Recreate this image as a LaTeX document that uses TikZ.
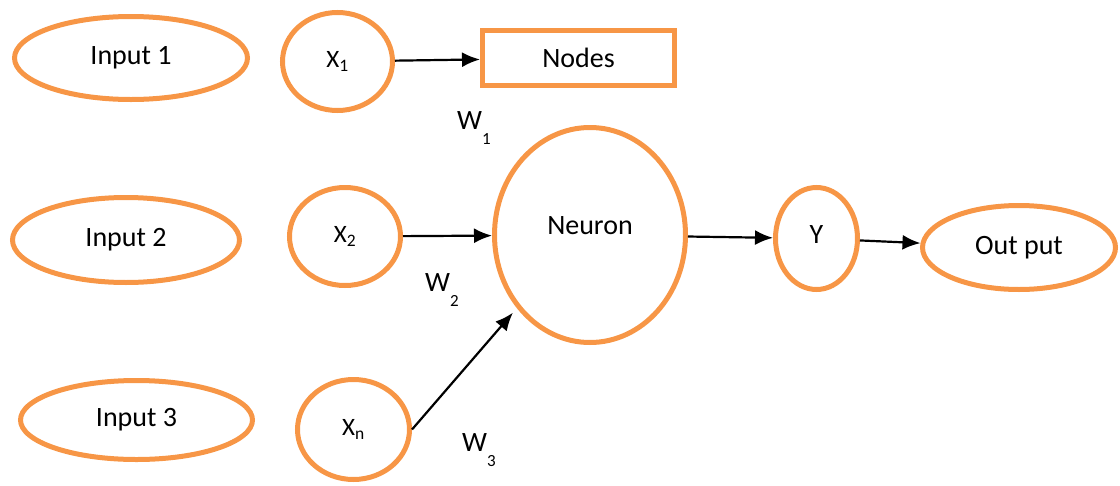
\documentclass[tikz,border=0pt]{standalone}
\usepackage{fontspec}
\setmainfont{Carlito}
\usetikzlibrary{shapes.geometric,arrows.meta}
\definecolor{nodeorange}{HTML}{F79646}
\newcommand{\wsub}[1]{W\raisebox{-15pt}{\fontsize{17}{20}\selectfont #1}}
\begin{document}
\begin{tikzpicture}[x=1pt,y=-1pt,font=\fontsize{28}{33}\selectfont]
	\useasboundingbox (0,0) rectangle (1120,485);
	\tikzstyle{oval}=[ellipse,draw=nodeorange,line width=5pt,inner sep=0pt]
	\tikzstyle{xlab}=[font=\fontsize{25}{30}\selectfont]

	\node[oval,minimum width=233pt,minimum height=83pt] (I1) at (131,58) {Input 1};
	\node[oval,minimum width=227pt,minimum height=85pt] (I2) at (126,240) {Input 2};
	\node[oval,minimum width=232pt,minimum height=79pt] (I3) at (136.5,420) {Input 3};

	\node[oval,xlab,minimum width=110pt,minimum height=98pt] (X1) at (337.5,61.5) {X\textsubscript{1}};
	\node[oval,xlab,minimum width=111pt,minimum height=98pt] (X2) at (345,236.5) {X\textsubscript{2}};
	\node[oval,xlab,minimum width=112pt,minimum height=100pt] (Xn) at (353.5,429.5) {X\textsubscript{n}};

	\node[draw=nodeorange,line width=5pt,minimum width=192pt,minimum height=55pt] (Nodes) at (578.5,58) {Nodes};
	\node[oval,minimum width=191pt,minimum height=215pt] (N) at (590,235) {\raisebox{18pt}{Neuron}};
	\node[oval,minimum width=82pt,minimum height=102pt] (Y) at (816.5,238.5) {\raisebox{8pt}{Y}};
	\node[oval,minimum width=193pt,minimum height=84pt] (O) at (1019,247.5) {Out put};

	\node (W1) at (474,128) {\wsub{1}};
	\node (W2) at (442,290) {\wsub{2}};
	\node (W3) at (479,450) {\wsub{3}};

	\tikzstyle{arr}=[-{Latex[length=18pt,width=15pt]},line width=2.2pt]
	\draw[arr] (X1) -- (Nodes);
	\draw[arr] (X2) -- (N);
	\draw[arr,shorten >=6pt] (Xn.east) -- (N.-135);
	\draw[arr] (N) -- (Y);
	\draw[arr] (Y) -- (O);
\end{tikzpicture}
\end{document}
